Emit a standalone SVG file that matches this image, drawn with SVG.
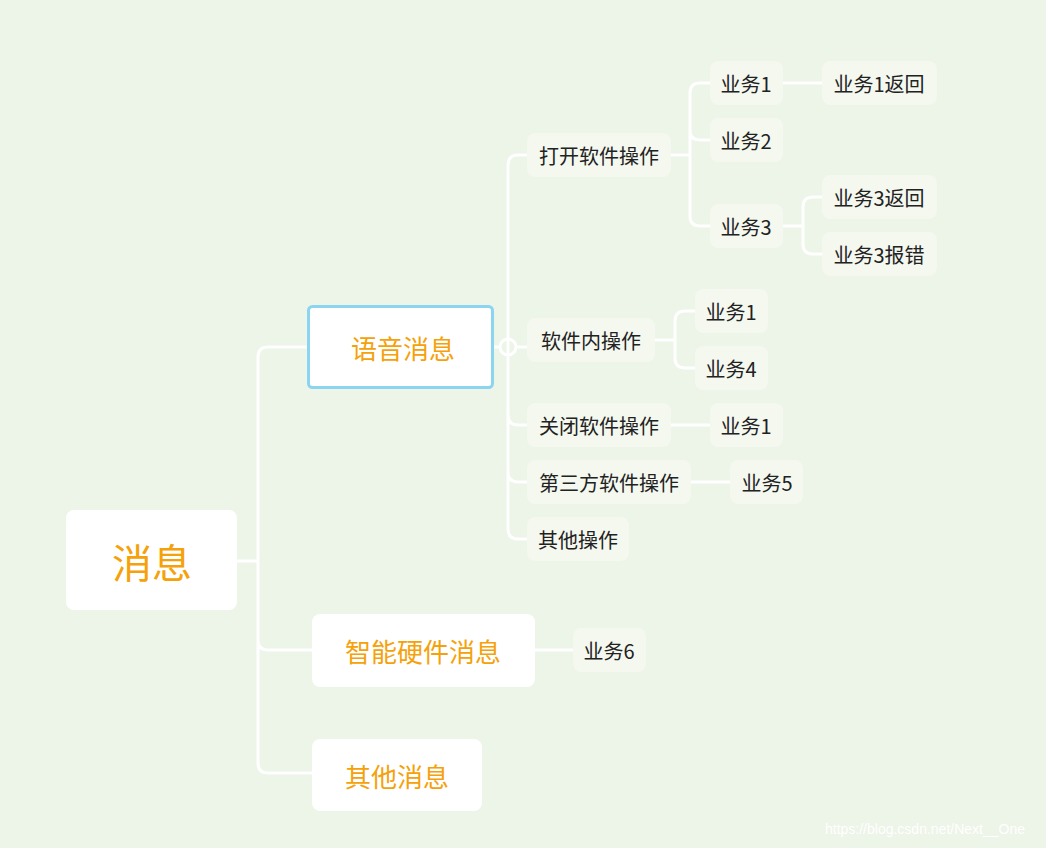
<svg xmlns="http://www.w3.org/2000/svg" width="1046" height="848" viewBox="0 0 1046 848">
<style>
text{font-family:"Noto Sans CJK SC","Liberation Sans",sans-serif;dominant-baseline:central;text-anchor:middle}
.big{fill:#fff}
.t1{fill:#F5A10A;font-size:26px}
.s{fill:#F4F8EF}
.t2{fill:#222;font-size:20px}
.c{fill:none;stroke:#fff;stroke-width:3}
</style>
<rect width="1046" height="848" fill="#EDF4E8"/>
<g id="connectors" class="c">
<path d="M237 561H258M308 347H268Q258 347 258 357V763Q258 773 268 773H312M258 640Q258 650 268 650H312"/>
<path d="M493 347H500M516 347H527M527 155H518Q508 155 508 165V529Q508 539 518 539H527M508 415Q508 425 518 425H527M508 472Q508 482 518 482H527"/>
<circle cx="508" cy="347" r="8"/>
<path d="M671 155H690M710 83H700Q690 83 690 93V216Q690 226 700 226H710M690 130Q690 140 700 140H710"/>
<path d="M783 83H822M783 226H803M822 197H813Q803 197 803 207V244Q803 254 813 254H822"/>
<path d="M655 340H675M695 311H685Q675 311 675 321V358Q675 368 685 368H695"/>
<path d="M671 425H710M691 482H730M535 650H573"/>
</g>
<g id="n0"><rect class="big" x="66" y="510" width="171" height="100" rx="8"/><text class="t1" x="152" y="561" style="font-size:40px">消息</text></g>
<g id="n1"><rect x="308.5" y="306.5" width="184" height="81" rx="4" fill="#fff" stroke="#8BD5F0" stroke-width="3"/><rect class="big" x="313" y="311" width="175" height="72" rx="8"/><text class="t1" x="403" y="347">语音消息</text></g>
<g id="n2"><rect class="big" x="312" y="614" width="223" height="73" rx="8"/><text class="t1" x="423" y="650">智能硬件消息</text></g>
<g id="n3"><rect class="big" x="312" y="739" width="170" height="72" rx="8"/><text class="t1" x="397" y="775">其他消息</text></g>
<g id="a1"><rect class="s" x="527" y="133" width="144" height="44" rx="8"/><text class="t2" x="599" y="155">打开软件操作</text></g>
<g id="a2"><rect class="s" x="527" y="318" width="128" height="44" rx="8"/><text class="t2" x="591" y="340">软件内操作</text></g>
<g id="a3"><rect class="s" x="527" y="403" width="144" height="44" rx="8"/><text class="t2" x="599" y="425">关闭软件操作</text></g>
<g id="a4"><rect class="s" x="527" y="460" width="164" height="44" rx="8"/><text class="t2" x="609" y="482">第三方软件操作</text></g>
<g id="a5"><rect class="s" x="527" y="517" width="102" height="44" rx="8"/><text class="t2" x="578" y="539">其他操作</text></g>
<g id="b1"><rect class="s" x="710" y="61" width="73" height="44" rx="8"/><text class="t2" x="746" y="83">业务1</text></g>
<g id="b2"><rect class="s" x="710" y="118" width="73" height="44" rx="8"/><text class="t2" x="746" y="140">业务2</text></g>
<g id="b3"><rect class="s" x="710" y="204" width="73" height="44" rx="8"/><text class="t2" x="746" y="226">业务3</text></g>
<g id="c1"><rect class="s" x="822" y="61" width="115" height="44" rx="8"/><text class="t2" x="879" y="83">业务1返回</text></g>
<g id="c2"><rect class="s" x="822" y="175" width="115" height="44" rx="8"/><text class="t2" x="879" y="197">业务3返回</text></g>
<g id="c3"><rect class="s" x="822" y="232" width="115" height="44" rx="8"/><text class="t2" x="879" y="254">业务3报错</text></g>
<g id="d1"><rect class="s" x="695" y="289" width="73" height="44" rx="8"/><text class="t2" x="731" y="311">业务1</text></g>
<g id="d2"><rect class="s" x="695" y="346" width="73" height="44" rx="8"/><text class="t2" x="731" y="368">业务4</text></g>
<g id="e1"><rect class="s" x="710" y="403" width="73" height="44" rx="8"/><text class="t2" x="746" y="425">业务1</text></g>
<g id="f1"><rect class="s" x="730" y="460" width="73" height="44" rx="8"/><text class="t2" x="767" y="482">业务5</text></g>
<g id="g1"><rect class="s" x="573" y="628" width="73" height="44" rx="8"/><text class="t2" x="609" y="650">业务6</text></g>
<text x="925" y="829" style="font-size:14px;fill:#fff;font-family:'Liberation Sans',sans-serif">https://blog.csdn.net/Next__One</text>
</svg>
